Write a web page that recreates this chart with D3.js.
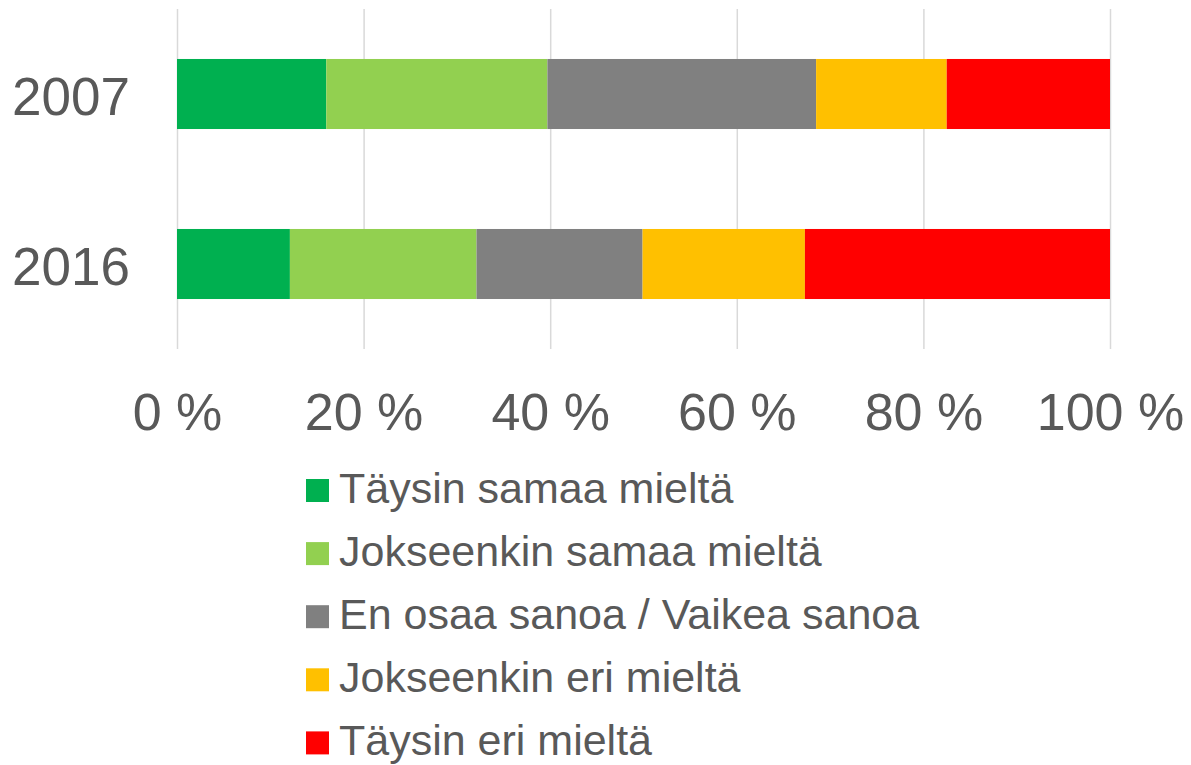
<!DOCTYPE html>
<html>
<head>
<meta charset="utf-8">
<script src="https://d3js.org/d3.v7.min.js"></script>
<style>
  body { margin: 0; background: #fff; }
  text { font-family: "Liberation Sans", Arial, sans-serif; fill: #595959; }
</style>
</head>
<body>
<div id="chart"></div>
<script>
// data (percent shares per year)
const years = ['2007', '2016'];
const categories = ['Täysin samaa mieltä', 'Jokseenkin samaa mieltä', 'En osaa sanoa / Vaikea sanoa', 'Jokseenkin eri mieltä', 'Täysin eri mieltä'];
const colors = ['#00b050', '#92d050', '#808080', '#ffc000', '#ff0000'];
const values2007 = [16.0, 23.7, 28.8, 14.0, 17.5];
const values2016 = [12.1, 20.0, 17.8, 17.4, 32.7];
const tickValues = [0, 20, 40, 60, 80, 100];

const rows = [values2007, values2016].map((vals, i) => {
  const r = {year: years[i]};
  categories.forEach((c, j) => r[c] = vals[j]);
  return r;
});

const width = 1191, height = 765;
const margin = {left: 177, right: 81, top: 9};

const svg = d3.select('#chart').append('svg')
  .attr('width', width)
  .attr('height', height);

const x = d3.scaleLinear().domain([0, 100]).range([margin.left, width - margin.right]);
const y = d3.scaleBand().domain(years).range([margin.top, 349])
  .paddingInner(0.588).paddingOuter(0.294);

// gridlines + tick labels
const xAxis = d3.axisBottom(x)
  .tickValues(tickValues)
  .tickSize(340)
  .tickPadding(44)
  .tickFormat(d => d + ' %');

const xAxisG = svg.append('g')
  .attr('transform', `translate(0,${margin.top})`)
  .call(xAxis);
xAxisG.select('.domain').remove();
xAxisG.selectAll('line').attr('stroke', '#d9d9d9').attr('stroke-width', 1.5);
xAxisG.selectAll('text')
  .attr('fill', '#595959')
  .style('font-size', '52px')
  .style('font-family', '"Liberation Sans", Arial, sans-serif');

// stacked bars
const stack = d3.stack().keys(categories)(rows);
const color = d3.scaleOrdinal().domain(categories).range(colors);

svg.append('g').selectAll('g')
  .data(stack)
  .join('g')
    .attr('fill', d => color(d.key))
  .selectAll('rect')
  .data(d => d)
  .join('rect')
    .attr('x', d => x(d[0]))
    .attr('y', d => y(d.data.year))
    .attr('width', d => x(d[1]) - x(d[0]))
    .attr('height', y.bandwidth());

// year labels
const yAxis = d3.axisLeft(y).tickSize(0).tickPadding(47);
const yAxisG = svg.append('g')
  .attr('transform', `translate(${margin.left},0)`)
  .call(yAxis);
yAxisG.select('.domain').remove();
yAxisG.selectAll('text')
  .attr('fill', '#595959')
  .attr('dy', '0.4em')
  .style('font-size', '53px')
  .style('font-family', '"Liberation Sans", Arial, sans-serif');

// legend
const legend = svg.append('g').attr('transform', 'translate(306,479)');
const item = legend.selectAll('g')
  .data(categories)
  .join('g')
    .attr('transform', (d, i) => `translate(0,${i * 63.1})`);
item.append('rect')
  .attr('width', 23)
  .attr('height', 23)
  .attr('fill', d => color(d));
item.append('text')
  .attr('x', 33)
  .attr('y', 24)
  .style('font-size', '43px')
  .text(d => d);
</script>
</body>
</html>
